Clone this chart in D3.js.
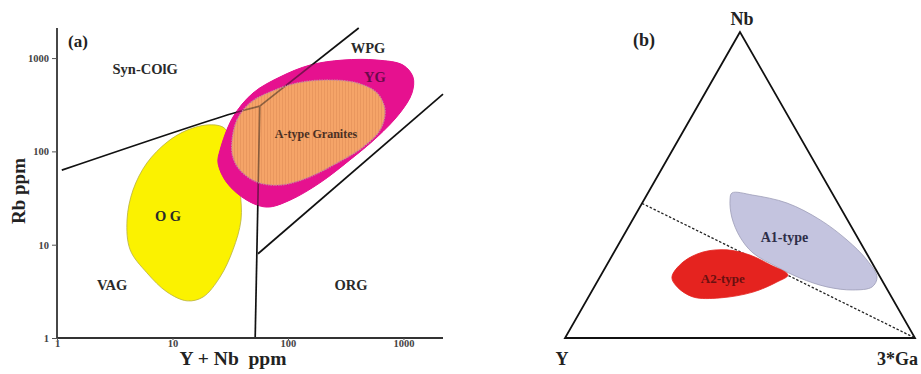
<!DOCTYPE html>
<html>
<head>
<meta charset="utf-8">
<script src="https://cdn.jsdelivr.net/npm/d3@7"></script>
<style>
  html, body { margin: 0; padding: 0; background: #fff; }
  svg { display: block; }
  text { font-family: "Liberation Serif", "Times New Roman", serif; font-weight: bold; }
</style>
</head>
<body>
<svg id="chart" width="921" height="374"></svg>
<script>
// ---------- Panel (a): Rb vs Y+Nb discrimination diagram (log–log) ----------
const xTicks = [1, 10, 100, 1000];
const yTicks = [1, 10, 100, 1000];

// Field boundaries, [Y+Nb ppm, Rb ppm]
const vagSynColgLine = [[1.1, 63], [33, 255], [57, 305]];
const wpgSynColgLine = [[57, 305], [410, 2100]];
const vagOrgLine     = [[57, 305], [52, 1]];
const wpgOrgLine     = [[55, 8], [2200, 410]];

// OG field (yellow)
const ogField = [
  [27.4, 182], [19.9, 192], [13.4, 169], [9.0, 126], [6.0, 75], [4.55, 38.5],
  [4.04, 18.4], [4.3, 8.8], [6.0, 5.0], [9.0, 3.1], [13.4, 2.5], [18.4, 2.75],
  [25.8, 4.5], [33.4, 8.8], [39.2, 18.4], [38.4, 38.5], [34.8, 80.7], [31.5, 142]
];
// YG field (magenta)
const ygField = [
  [25.8, 103], [33.4, 233], [49.8, 422], [85, 626], [155, 841], [299, 952],
  [590, 952], [991, 841], [1209, 626], [1185, 422], [933, 258], [590, 142],
  [344, 81], [189, 46], [104, 30], [66, 25.3], [44, 30], [29.6, 46], [24.8, 75]
];
// A-type granite field (orange)
const aTypeField = [
  [32.7, 123], [36.2, 217], [46.9, 330], [69.8, 432], [120, 540], [218, 581],
  [396, 540], [590, 422], [692, 277], [626, 169], [446, 111], [266, 75],
  [146, 51.8], [85, 43.6], [54, 46.9], [38.4, 63], [33.4, 87]
];

const fieldLabelsA = [
  { text: "Syn-COlG", x: 5.8, y: 674 },
  { text: "WPG", x: 493, y: 1130 },
  { text: "YG", x: 567, y: 553 },
  { text: "O G", x: 9.15, y: 17.9 },
  { text: "VAG", x: 3.0, y: 3.27 },
  { text: "ORG", x: 351, y: 3.27 }
];

// ---------- Panel (b): Nb – Y – 3*Ga ternary ----------
// Compositions in percent: [Nb, Y, 3*Ga]
const dividerLine = [[44, 56, 0], [0, 0, 100]];
const a1Field = [
  [47.4, 28.6, 24.0], [46.7, 23.0, 30.3], [44.1, 14.5, 41.4], [38.6, 7.8, 53.6],
  [32.0, 3.4, 64.6], [25.5, 1.0, 73.5], [19.9, 0.9, 79.2], [16.7, 3.9, 79.4],
  [15.7, 9.9, 74.4], [16.7, 16.8, 66.5], [19.6, 23.1, 57.3], [23.2, 27.8, 49.0],
  [27.8, 32.4, 39.8], [33.0, 33.5, 33.5], [39.5, 32.6, 27.9], [45.1, 30.3, 24.6]
];
const a2Field = [
  [19.9, 59.5, 20.6], [24.8, 53.9, 21.3], [28.1, 46.5, 25.4], [28.8, 39.3, 31.9],
  [27.1, 33.6, 39.3], [23.9, 29.4, 46.7], [20.6, 26.0, 53.4], [18.3, 30.3, 51.4],
  [15.0, 38.8, 46.2], [13.1, 49.2, 37.7], [13.4, 56.7, 29.9], [16.7, 59.6, 23.7]
];
const fieldLabelsB = [
  { text: "A1-type", at: [31.4, 21.6, 47.0], size: 14, color: "#2e2e48" },
  { text: "A2-type", at: [18.0, 45.9, 36.1], size: 13, color: "#6a1010" }
];

// ======================================================================
const svg = d3.select("#chart");

// ---- Panel (a)
const x = d3.scaleLog().domain([1, 2200]).range([57, 443]);
const y = d3.scaleLog().domain([1, 2100]).range([338, 28]);

const gA = svg.append("g");

const defs = svg.append("defs");
const hatch = defs.append("pattern")
  .attr("id", "hatch").attr("patternUnits", "userSpaceOnUse")
  .attr("width", 3).attr("height", 4);
hatch.append("rect").attr("width", 3).attr("height", 4).attr("fill", "#f5a468");
hatch.append("rect").attr("width", 1).attr("height", 4).attr("fill", "#e9975e");

const closedCurve = d3.line()
  .x(d => x(d[0])).y(d => y(d[1]))
  .curve(d3.curveCatmullRomClosed.alpha(0.5));
const openLine = d3.line()
  .x(d => x(d[0])).y(d => y(d[1]))
  .curve(d3.curveCatmullRom.alpha(0.5));

// filled fields
gA.append("path").attr("d", closedCurve(ogField))
  .attr("fill", "#fbf200").attr("stroke", "#b8b040").attr("stroke-width", 0.8);
gA.append("path").attr("d", closedCurve(ygField))
  .attr("fill", "#e6118f").attr("stroke", "#e6118f").attr("stroke-width", 1);
gA.append("path").attr("d", closedCurve(aTypeField))
  .attr("fill", "url(#hatch)");

// boundary lines
const boundaries = [vagSynColgLine, wpgSynColgLine, vagOrgLine, wpgOrgLine];
gA.selectAll("path.bound").data(boundaries).join("path")
  .attr("class", "bound")
  .attr("d", d => openLine(d))
  .attr("fill", "none").attr("stroke", "#111").attr("stroke-width", 1.7);

// translucent veil over the lines where they cross the granite fields
gA.append("path").attr("d", closedCurve(ygField) + closedCurve(aTypeField))
  .attr("fill-rule", "evenodd")
  .attr("fill", "#e6118f").attr("opacity", 0.5);
gA.append("path").attr("d", closedCurve(aTypeField))
  .attr("fill", "url(#hatch)").attr("opacity", 0.55);
gA.append("path").attr("d", closedCurve(aTypeField))
  .attr("fill", "none").attr("stroke", "#c98a9a").attr("stroke-width", 1.4)
  .attr("stroke-dasharray", "1.5,1");

// axes
const axisB = d3.axisBottom(x).tickValues(xTicks).tickFormat(d3.format("d")).tickSize(4);
const axisL = d3.axisLeft(y).tickValues(yTicks).tickFormat(d3.format("d")).tickSize(5);

const gx = gA.append("g").attr("transform", "translate(0,338)").call(axisB);
const gy = gA.append("g").attr("transform", "translate(57,0)").call(axisL);
[gx, gy].forEach(g => {
  g.select(".domain").attr("stroke", "#333").attr("stroke-width", 1.8);
  g.selectAll(".tick line").attr("stroke", "#555").attr("stroke-width", 1);
  g.selectAll(".tick text")
    .attr("font-family", "Liberation Serif, serif")
    .attr("font-weight", "bold").attr("font-size", 10.5).attr("fill", "#444");
});
gx.selectAll(".tick line").attr("y2", 2);
gx.selectAll(".tick text").attr("dy", "0.1em").attr("y", 8);
gy.selectAll(".tick text").attr("x", -8);
gx.select(".domain").attr("d", "M57,0H443");
gy.select(".domain").attr("d", "M0,338V28");

// axis titles
gA.append("text").attr("transform", "translate(25,191) rotate(-90)")
  .attr("text-anchor", "middle").attr("font-size", 19).attr("fill", "#222")
  .text("Rb ppm");
gA.append("text").attr("x", 233).attr("y", 365)
  .attr("text-anchor", "middle").attr("font-size", 19.5).attr("fill", "#222")
  .style("white-space", "pre")
  .text("Y + Nb  ppm");

// panel tag and field names
gA.append("text").attr("x", 78).attr("y", 47).attr("text-anchor", "middle")
  .attr("font-size", 17).attr("fill", "#222").text("(a)");
gA.selectAll("text.field").data(fieldLabelsA).join("text")
  .attr("class", "field")
  .attr("x", d => x(d.x)).attr("y", d => y(d.y))
  .attr("text-anchor", "middle").attr("font-size", 14.5)
  .attr("fill", d => d.text === "YG" ? "#6a0a4a" : "#2a2a2a")
  .style("white-space", "pre")
  .text(d => d.text);
gA.append("text").attr("x", x(175)).attr("y", y(139))
  .attr("text-anchor", "middle").attr("font-size", 12).attr("fill", "#4a3024")
  .text("A-type Granites");

// ---- Panel (b)
const gB = svg.append("g");
const vNb = [740, 32], vY = [565, 338], vGa = [915, 338];
// height scale along the Nb axis, horizontal share for 3*Ga
const hNb = d3.scaleLinear().domain([0, 100]).range([vY[1], vNb[1]]);
const wGa = d3.scaleLinear().domain([0, 100]).range([0, vGa[0] - vY[0]]);
const tx = d => vY[0] + wGa(d[2]) + wGa(d[0]) / 2;
const ty = d => hNb(d[0]);

const ternClosed = d3.line().x(tx).y(ty).curve(d3.curveCatmullRomClosed.alpha(0.5));

gB.append("path")
  .attr("d", d3.line().x(tx).y(ty)(dividerLine))
  .attr("fill", "none").attr("stroke", "#222").attr("stroke-width", 1.3)
  .attr("stroke-dasharray", "2.5,1.8");

gB.append("path").attr("d", ternClosed(a1Field))
  .attr("fill", "#c4c4df").attr("stroke", "#9d9db8").attr("stroke-width", 0.8);
gB.append("path").attr("d", ternClosed(a2Field))
  .attr("fill", "#e5231f").attr("stroke", "#e5231f").attr("stroke-width", 0.8);

const corners = [[100, 0, 0], [0, 100, 0], [0, 0, 100]];
gB.append("path")
  .attr("d", d3.line().x(tx).y(ty)(corners) + "Z")
  .attr("fill", "none").attr("stroke", "#111").attr("stroke-width", 1.8)
  .attr("stroke-linejoin", "miter");

gB.selectAll("text.field").data(fieldLabelsB).join("text")
  .attr("class", "field")
  .attr("x", d => tx(d.at)).attr("y", d => ty(d.at))
  .attr("text-anchor", "middle")
  .attr("font-size", d => d.size).attr("fill", d => d.color)
  .text(d => d.text);

// vertex names and panel tag
gB.append("text").attr("x", 742).attr("y", 25).attr("text-anchor", "middle")
  .attr("font-size", 18).attr("fill", "#222").text("Nb");
gB.append("text").attr("x", 644).attr("y", 46).attr("text-anchor", "middle")
  .attr("font-size", 18).attr("fill", "#222").text("(b)");
gB.append("text").attr("x", 562).attr("y", 365).attr("text-anchor", "middle")
  .attr("font-size", 18).attr("fill", "#222").text("Y");
gB.append("text").attr("x", 877).attr("y", 365).attr("text-anchor", "start")
  .attr("font-size", 18).attr("fill", "#222").text("3*Ga");
</script>
</body>
</html>
